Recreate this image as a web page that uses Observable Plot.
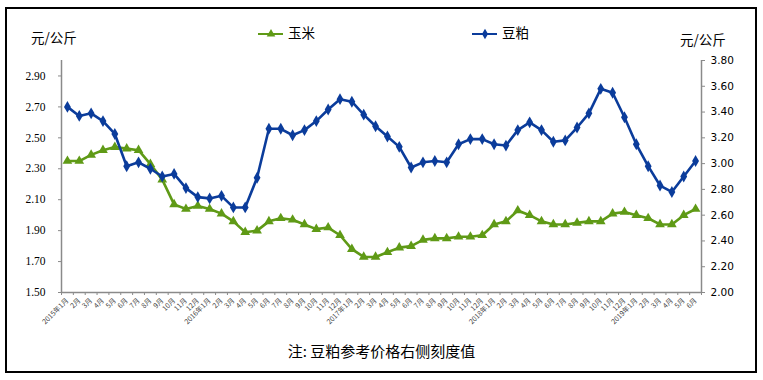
<!DOCTYPE html>
<html>
<head>
<meta charset="utf-8">
<script src="https://cdn.jsdelivr.net/npm/d3@7"></script>
<script src="https://cdn.jsdelivr.net/npm/@observablehq/plot@0.6"></script>
<style>
  html, body { margin: 0; padding: 0; background: #fff; }
  #wrap { position: relative; width: 763px; height: 380px; overflow: hidden; font-family: "Noto Sans CJK SC", sans-serif; }
  #frame { position: absolute; left: 5px; top: 7px; width: 752px; height: 366px; border: 2px solid #000; box-sizing: border-box; pointer-events: none; }
  .lbl { position: absolute; font-size: 13.5px; color: #000; white-space: nowrap; line-height: 1; }
  .key { position: absolute; height: 0; border-top: 2.5px solid; }
  .keym { position: absolute; }
  #chart { position: absolute; left: 0; top: 0; }
</style>
</head>
<body>
<div id="wrap">
  <div id="chart"></div>
  <div class="lbl" style="left:31px; top:31px;">元/公斤</div>
  <div class="lbl" style="left:680px; top:33px;">元/公斤</div>
  <div id="legend"></div>
  <div class="lbl" style="left:0; width:763px; text-align:center; top:343px; font-size:15px;">注: 豆粕参考价格右侧刻度值</div>
  <div id="frame"></div>
</div>
<script>
// categories (months, Jan 2015 – Jun 2019)
const xLabels = [
  "2015年1月","2月","3月","4月","5月","6月","7月","8月","9月","10月","11月","12月",
  "2016年1月","2月","3月","4月","5月","6月","7月","8月","9月","10月","11月","12月",
  "2017年1月","2月","3月","4月","5月","6月","7月","8月","9月","10月","11月","12月",
  "2018年1月","2月","3月","4月","5月","6月","7月","8月","9月","10月","11月","12月",
  "2019年1月","2月","3月","4月","5月","6月"
];
// 玉米 (left axis, 元/公斤)
const corn = [
  2.35,2.35,2.39,2.42,2.44,2.43,2.42,2.33,2.23,2.07,2.04,2.06,
  2.04,2.01,1.96,1.89,1.90,1.96,1.98,1.97,1.94,1.91,1.92,1.87,
  1.78,1.73,1.73,1.76,1.79,1.80,1.84,1.85,1.85,1.86,1.86,1.87,
  1.94,1.96,2.03,2.00,1.96,1.94,1.94,1.95,1.96,1.96,2.01,2.02,
  2.00,1.98,1.94,1.94,2.00,2.04
];
// 豆粕 (right axis, 元/公斤)
const soy = [
  3.44,3.37,3.39,3.33,3.23,2.98,3.01,2.96,2.90,2.92,2.81,2.74,
  2.73,2.75,2.66,2.66,2.89,3.27,3.27,3.22,3.26,3.33,3.42,3.50,
  3.48,3.38,3.29,3.21,3.13,2.97,3.01,3.02,3.01,3.15,3.19,3.19,
  3.15,3.14,3.26,3.32,3.26,3.17,3.18,3.28,3.39,3.58,3.55,3.36,
  3.15,2.98,2.83,2.78,2.90,3.02
];
const leftTicks = [1.5, 1.7, 1.9, 2.1, 2.3, 2.5, 2.7, 2.9];
const rightTicks = [2.0, 2.2, 2.4, 2.6, 2.8, 3.0, 3.2, 3.4, 3.6, 3.8];
const seriesNames = ["玉米", "豆粕"];

const leftDomain = [1.5, 3.0];
const rightDomain = [2.0, 3.8];
const toLeft = v => leftDomain[0] + (v - rightDomain[0]) * (leftDomain[1] - leftDomain[0]) / (rightDomain[1] - rightDomain[0]);
const fromLeft = v => rightDomain[0] + (v - leftDomain[0]) * (rightDomain[1] - rightDomain[0]) / (leftDomain[1] - leftDomain[0]);

const green = "#5f9a16";
const blue = "#0b3c9b";
const axisGray = "#8a8a8a";

const cornData = corn.map((v, i) => ({i, v}));
const soyData = soy.map((v, i) => ({i, v: toLeft(v)}));
const n = xLabels.length;

const chart = Plot.plot({
  width: 763,
  height: 380,
  marginLeft: 61,
  marginRight: 62,
  marginTop: 60,
  marginBottom: 88,
  style: {background: "transparent", overflow: "visible"},
  x: {type: "linear", domain: [-0.5, n - 0.5]},
  y: {domain: leftDomain},
  marks: [
    Plot.axisY({anchor: "left", ticks: leftTicks, tickFormat: d3.format(".2f"), tickSize: 3, tickPadding: 13,
      fontSize: 11.5, fontFamily: "Liberation Serif", fill: "#000", stroke: axisGray, label: null}),
    Plot.axisY({anchor: "right", ticks: rightTicks.map(toLeft), tickFormat: v => fromLeft(v).toFixed(2), tickSize: 3, tickPadding: 6,
      fontSize: 10.5, fontFamily: "DejaVu Sans", fill: "#000", stroke: axisGray, label: null}),
    Plot.axisX({ticks: d3.range(n), tickFormat: i => xLabels[i], tickRotate: -45, tickSize: 0, tickPadding: 7,
      fontSize: 7, fontFamily: "Noto Sans CJK SC", fill: "#444", label: null}),
    Plot.axisX({ticks: d3.range(n + 1).map(k => k - 0.5), tickFormat: () => "", tickSize: 3, stroke: axisGray, label: null}),
    Plot.ruleY([leftDomain[0]], {stroke: axisGray, strokeWidth: 1.5}),
    Plot.ruleX([-0.5, n - 0.5], {stroke: axisGray, strokeWidth: 1.5}),
    Plot.line(cornData, {x: "i", y: "v", stroke: green, strokeWidth: 2.6}),
    Plot.dot(cornData, {x: "i", y: "v", symbol: "triangle", r: 3.6, fill: green}),
    Plot.line(soyData, {x: "i", y: "v", stroke: blue, strokeWidth: 2.6}),
    Plot.dot(soyData, {x: "i", y: "v", symbol: "diamond", r: 3.6, fill: blue})
  ]
});
document.getElementById("chart").appendChild(chart);

// legend
const legend = document.getElementById("legend");
const keys = [
  {name: seriesNames[0], color: green, symbol: d3.symbolTriangle, left: 258},
  {name: seriesNames[1], color: blue, symbol: d3.symbolDiamond, left: 472}
];
for (const k of keys) {
  const line = document.createElement("div");
  line.className = "key";
  line.style.cssText = `left:${k.left}px; top:33px; width:25px; border-top-color:${k.color};`;
  legend.appendChild(line);
  const svg = d3.create("svg").attr("width", 12).attr("height", 12)
    .style("position", "absolute").style("left", (k.left + 6.5) + "px").style("top", "28px");
  svg.append("path").attr("transform", "translate(6,6)").attr("d", d3.symbol(k.symbol, 32)()).attr("fill", k.color);
  legend.appendChild(svg.node());
  const t = document.createElement("div");
  t.className = "lbl";
  t.style.cssText = `left:${k.left + 30}px; top:26px;`;
  t.textContent = k.name;
  legend.appendChild(t);
}
</script>
</body>
</html>
